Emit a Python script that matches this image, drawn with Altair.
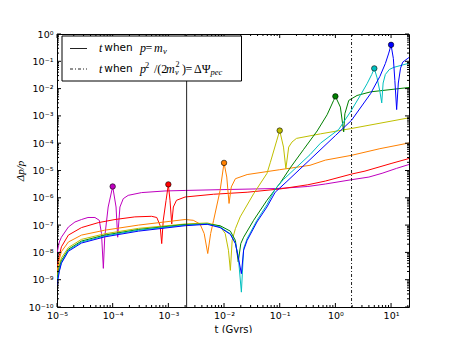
import altair as alt
import pandas as pd

# ---------------- data ----------------
series_names = ["m", "r", "o", "y", "g", "c", "b"]
series_colors = ["#bf00bf", "#ff0000", "#ff8000", "#bfbf00", "#008000", "#00bfbf", "#0000ff"]

t_m = [1.0e-5, 1.1e-5, 1.2e-5, 1.6e-5, 2.1e-5, 2.75e-5, 3.6e-5, 4.8e-5, 5.75e-5, 6.3e-5,
       6.8e-5, 7.2e-5, 8.3e-5, 1.0e-4, 1.15e-4, 1.23e-4, 1.35e-4, 1.55e-4, 1.9e-4, 3.3e-4,
       8.7e-4, 2.0e-3, 1.0e-2, 0.1, 0.32, 0.66, 1.95, 4.0, 6.9, 12.6, 21]
v_m = [9.1e-9, 2.4e-8, 3.6e-8, 8.5e-8, 1.3e-7, 1.6e-7, 1.9e-7, 1.9e-7, 1.5e-7, 4.9e-8,
       2.6e-9, 3.6e-8, 4.6e-7, 2.6e-6, 4.6e-7, 3.6e-8, 4.6e-7, 9.3e-7, 1.23e-6, 1.55e-6,
       1.78e-6, 1.86e-6, 2.0e-6, 2.2e-6, 2.6e-6, 3.2e-6, 4.6e-6, 5.75e-6, 7.9e-6, 1.2e-5, 1.66e-5]

t_r = [1.0e-5, 1.1e-5, 1.2e-5, 1.6e-5, 2.75e-5, 5.5e-5, 1.1e-4, 2.5e-4, 5.0e-4, 6.2e-4,
       7.1e-4, 7.6e-4, 8.1e-4, 9.1e-4, 1.0e-3, 1.07e-3, 1.15e-3, 1.23e-3, 1.4e-3, 2.0e-3,
       6.5e-3, 2.6e-2, 0.1, 0.32, 0.66, 1.95, 3.4, 10, 21]
v_r = [2.95e-9, 7.8e-9, 1.6e-8, 4.3e-8, 8.1e-8, 1.23e-7, 1.6e-7, 2.0e-7, 2.1e-7, 1.9e-7,
       9.8e-8, 2.1e-8, 1.5e-7, 8.1e-7, 3.1e-6, 8.1e-7, 1.1e-7, 4.6e-7, 8.1e-7, 1.07e-6,
       1.35e-6, 1.6e-6, 2.1e-6, 3.0e-6, 4.1e-6, 7.4e-6, 9.5e-6, 1.8e-5, 2.75e-5]

t_o = [1.0e-5, 1.1e-5, 1.2e-5, 1.6e-5, 2.75e-5, 7.2e-5, 2.9e-4, 2.0e-3, 2.8e-3, 3.7e-3,
       4.4e-3, 5.1e-3, 5.75e-3, 6.5e-3, 8.5e-3, 1.0e-2, 1.12e-2, 1.23e-2, 1.35e-2, 1.6e-2,
       2.6e-2, 0.1, 0.35, 0.66, 1.95, 6.3, 21]
v_o = [2.0e-9, 5.6e-9, 1.07e-8, 2.4e-8, 4.3e-8, 6.5e-8, 1.0e-7, 1.6e-7, 1.5e-7, 1.1e-7,
       4.9e-8, 9.1e-9, 4.9e-8, 1.5e-7, 1.86e-6, 1.9e-5, 5.75e-6, 6.2e-7, 2.5e-6, 5.0e-6,
       7.1e-6, 1.07e-5, 1.55e-5, 2.4e-5, 3.6e-5, 6.3e-5, 1.02e-4]

t_y = [1.0e-5, 1.1e-5, 1.2e-5, 1.6e-5, 2.75e-5, 7.2e-5, 2.9e-4, 2.0e-3, 5.0e-3, 8.5e-3,
       1.05e-2, 1.2e-2, 1.3e-2, 1.4e-2, 1.6e-2, 1.95e-2, 3.4e-2, 5.9e-2, 6.8e-2, 8.9e-2,
       0.1, 0.117, 0.129, 0.145, 0.166, 0.2, 0.54, 1.86, 21]
v_y = [1.26e-9, 3.5e-9, 6.3e-9, 1.5e-8, 3.0e-8, 4.8e-8, 7.6e-8, 1.1e-7, 1.2e-7, 9.1e-8,
       4.9e-8, 1.2e-8, 2.2e-9, 2.75e-8, 7.4e-8, 2.0e-7, 1.4e-6, 7.8e-6, 2.0e-5, 1.3e-4,
       2.9e-4, 7.2e-5, 1.17e-5, 7.2e-5, 1.1e-4, 1.5e-4, 2.2e-4, 3.4e-4, 8.5e-4]

t_g = [1.0e-5, 1.1e-5, 1.2e-5, 1.6e-5, 2.75e-5, 7.2e-5, 2.9e-4, 2.0e-3, 5.0e-3, 8.5e-3,
       1.3e-2, 1.6e-2, 1.8e-2, 2.0e-2, 2.25e-2, 3.4e-2, 5.9e-2, 0.102, 0.155, 0.27,
       0.47, 0.71, 0.93, 1.0, 1.23, 1.41, 1.48, 1.74, 2.45, 4.3, 21]
v_g = [1.0e-9, 2.8e-9, 5.0e-9, 1.3e-8, 2.6e-8, 4.3e-8, 6.9e-8, 1.05e-7, 1.1e-7, 9.5e-8,
       6.0e-8, 2.75e-8, 4.5e-9, 2.1e-8, 3.6e-8, 1.5e-7, 8.1e-7, 3.5e-6, 1.26e-5, 6.0e-5,
       2.8e-4, 1.1e-3, 3.7e-3, 5.2e-3, 2.1e-3, 2.6e-4, 1.2e-3, 3.7e-3, 5.6e-3, 7.6e-3, 1.1e-2]

t_c = [1.0e-5, 1.1e-5, 1.2e-5, 1.6e-5, 2.75e-5, 7.2e-5, 2.9e-4, 2.0e-3, 5.0e-3, 8.5e-3,
       1.3e-2, 1.6e-2, 1.8e-2, 2.05e-2, 2.25e-2, 2.6e-2, 3.9e-2, 5.9e-2, 8.3e-2, 0.117,
       0.35, 0.54, 1.15, 1.86, 2.8, 3.7, 4.5, 5.0, 5.6, 6.3,
       6.8, 7.2, 7.9, 9.3, 11.2, 21]
v_c = [7.6e-10, 2.2e-9, 4.3e-9, 1.2e-8, 2.4e-8, 4.0e-8, 6.5e-8, 1.0e-7, 1.1e-7, 8.5e-8,
       4.8e-8, 2.2e-8, 7.1e-9, 3.5e-10, 1.4e-8, 3.2e-8, 1.5e-7, 5.6e-7, 2.1e-6, 4.7e-6,
       3.8e-5, 1.0e-4, 3.2e-4, 1.4e-3, 5.6e-3, 1.5e-2, 3.3e-2, 5.5e-2, 2.5e-2, 7.9e-3,
       3.0e-3, 1.6e-2, 3.3e-2, 5.0e-2, 6.0e-2, 8.5e-2]

t_b = [1.0e-5, 1.1e-5, 1.2e-5, 1.6e-5, 2.75e-5, 7.2e-5, 2.9e-4, 2.0e-3, 5.0e-3, 8.5e-3,
       1.3e-2, 1.6e-2, 1.8e-2, 2.05e-2, 2.25e-2, 2.6e-2, 3.9e-2, 5.9e-2, 8.3e-2, 0.135,
       0.35, 1.0, 1.95, 4.3, 6.3, 7.9, 9.1, 10, 11, 11.7,
       12.6, 13.5, 14.8, 16.2, 21]
v_b = [6.3e-10, 2.0e-9, 4.0e-9, 1.1e-8, 2.2e-8, 3.7e-8, 6.0e-8, 9.5e-8, 1.07e-7, 8.1e-8,
       4.6e-8, 2.1e-8, 6.8e-9, 1.66e-9, 1.2e-8, 2.75e-8, 1.3e-7, 4.6e-7, 1.6e-6, 4.0e-6,
       2.5e-5, 1.9e-4, 6.9e-4, 6.6e-3, 2.8e-2, 8.3e-2, 0.2, 0.4, 0.126, 2.0e-2,
       1.7e-3, 1.6e-2, 5.6e-2, 9.3e-2, 0.138]

marker_t = [1e-4, 1e-3, 1e-2, 0.1, 1.0, 5.0, 10.0]
marker_v = [2.6e-6, 3.1e-6, 1.9e-5, 2.9e-4, 5.2e-3, 5.5e-2, 0.4]

t_when_p_eq_m = [2.13e-3]
t_when_psi = [1.95]

x_exps = [-5, -4, -3, -2, -1, 0, 1]
y_exps = [-10, -9, -8, -7, -6, -5, -4, -3, -2, -1, 0]

# ---------------- chart ----------------
W, H = 352, 273
FONT = "DejaVu Sans"
MATH = "Liberation Serif"

x_major = [10.0 ** e for e in x_exps]
y_major = [10.0 ** e for e in y_exps]
x_minor = [m * 10.0 ** e for e in x_exps for m in range(2, 10) if m * 10.0 ** e <= 21]
y_minor = [m * 10.0 ** e for e in y_exps[:-1] for m in range(2, 10)]

x_scale = alt.Scale(type="log", domain=[1e-5, 21], nice=False)
y_scale = alt.Scale(type="log", domain=[1e-10, 1], nice=False)

SUP = str.maketrans("-0123456789", "⁻⁰¹²³⁴⁵⁶⁷⁸⁹")


def pow_label(e):
    return "10" + str(e).translate(SUP)


def label_expr(exps):
    expr = f"'{pow_label(exps[-1])}'"
    for e in reversed(exps[:-1]):
        expr = f"datum.value < {3 * 10.0 ** e:.3g} ? '{pow_label(e)}' : ({expr})"
    return expr


x_axis = alt.Axis(values=x_major, labelExpr=label_expr(x_exps), ticks=False, domain=False,
                  grid=False, labelFont=FONT, labelFontSize=9.5, labelColor="black",
                  labelPadding=3, labelOverlap=False, labelFlush=False,
                  title="t (Gyrs)", titleFont=FONT, titleFontSize=10, titleFontWeight="normal",
                  titleColor="black", titleX=W / 2, titleY=22, titleBaseline="middle",
                  titleAlign="center")
y_axis = alt.Axis(values=y_major, labelExpr=label_expr(y_exps), ticks=False, domain=False,
                  grid=False, labelFont=FONT, labelFontSize=9.5, labelColor="black",
                  labelPadding=4, labelOverlap=False, labelFlush=False,
                  title="Δp/p", titleFont=MATH, titleFontSize=11, titleFontStyle="italic",
                  titleFontWeight="normal", titleColor="black", titleX=-37, titleY=H / 2,
                  titleAngle=270, titleBaseline="middle", titleAlign="center")


def X(field="t"):
    return alt.X(f"{field}:Q", scale=x_scale, axis=x_axis, title="t (Gyrs)")


def Y(field="v"):
    return alt.Y(f"{field}:Q", scale=y_scale, axis=y_axis, title="Δp/p")


series_t = [t_m, t_r, t_o, t_y, t_g, t_c, t_b]
series_v = [v_m, v_r, v_o, v_y, v_g, v_c, v_b]

layers = []
for name, col, ts, vs in zip(series_names, series_colors, series_t, series_v):
    df = pd.DataFrame({"t": ts, "v": vs, "series": name})
    layers.append(
        alt.Chart(df).mark_line(color=col, strokeWidth=1, clip=True).encode(x=X(), y=Y())
    )

mk = pd.DataFrame({"t": marker_t, "v": marker_v, "series": series_names})
layers.append(
    alt.Chart(mk).mark_circle(size=30, opacity=1, stroke="black", strokeWidth=0.6).encode(
        x=X(), y=Y(),
        fill=alt.Fill("series:N", scale=alt.Scale(domain=series_names, range=series_colors),
                      legend=None),
    )
)

DASHDOT = [3, 2, 1, 2]
layers.append(
    alt.Chart(pd.DataFrame({"t": t_when_p_eq_m})).mark_rule(color="#222222", strokeWidth=1).encode(
        x=X())
)
layers.append(
    alt.Chart(pd.DataFrame({"t": t_when_psi})).mark_rule(
        color="#222222", strokeWidth=1, strokeDash=DASHDOT).encode(x=X())
)

# inward ticks on all four sides
for vals, L in [(x_major, 4), (x_minor, 2)]:
    d = pd.DataFrame({"t": vals})
    for y0, y1_ in [(H, H - L), (0, L)]:
        layers.append(alt.Chart(d).mark_rule(color="black", strokeWidth=1).encode(
            x=X(), y=alt.value(y0), y2=alt.value(y1_)))
for vals, L in [(y_major, 4), (y_minor, 2)]:
    d = pd.DataFrame({"v": vals})
    for x0, x1_ in [(0, L), (W, W - L)]:
        layers.append(alt.Chart(d).mark_rule(color="black", strokeWidth=1).encode(
            y=Y(), x=alt.value(x0), x2=alt.value(x1_)))

# legend drawn by hand
one = pd.DataFrame({"a": [0]})
layers.append(alt.Chart(one).mark_rect(fill="white", stroke="black", strokeWidth=1).encode(
    x=alt.value(5), x2=alt.value(184.5), y=alt.value(2), y2=alt.value(47)))
layers.append(alt.Chart(one).mark_rule(color="#222222", strokeWidth=1).encode(
    x=alt.value(13), x2=alt.value(30), y=alt.value(14.5)))
layers.append(alt.Chart(one).mark_rule(color="#222222", strokeWidth=1, strokeDash=DASHDOT).encode(
    x=alt.value(13), x2=alt.value(30), y=alt.value(35)))


def txt(s, x, y, font=FONT, size=10.5, style="normal"):
    return alt.Chart(one).mark_text(text=s, align="left", baseline="middle", font=font,
                                    fontSize=size, fontStyle=style, color="black").encode(
        x=alt.value(x), y=alt.value(y))


ly1, ly2 = 14.3, 35
layers += [
    txt("t", 42, ly1, MATH, 12, "italic"),
    txt("when", 47.3, ly1),
    txt("p", 83, ly1, MATH, 12, "italic"),
    txt("=", 88.5, ly1, MATH, 12),
    txt("m", 97, ly1, MATH, 12, "italic"),
    txt("ν", 106, ly1 + 3, MATH, 8.5, "italic"),
    txt("t", 42, ly2, MATH, 12, "italic"),
    txt("when", 47.3, ly2),
    txt("p", 83, ly2, MATH, 12, "italic"),
    txt("2", 88, ly2 - 4, MATH, 8.5),
    txt("/(2", 97, ly2, MATH, 12),
    txt("m", 109, ly2, MATH, 12, "italic"),
    txt("ν", 118, ly2 + 3.5, MATH, 8, "italic"),
    txt("2", 118.5, ly2 - 4.5, MATH, 8),
    txt(")", 125, ly2, MATH, 12),
    txt("=", 128.5, ly2, MATH, 12),
    txt("ΔΨ", 137, ly2, MATH, 12),
    txt("pec", 153.5, ly2 + 3, MATH, 8.5, "italic"),
]

chart = alt.layer(*layers).properties(
    width=W, height=H, autosize="none",
    padding={"left": 49, "top": 26, "right": 30, "bottom": 26},
    background="white",
).configure_view(stroke="black", strokeWidth=1)

chart.save("out.html", embed_options={"renderer": "svg", "actions": False})
